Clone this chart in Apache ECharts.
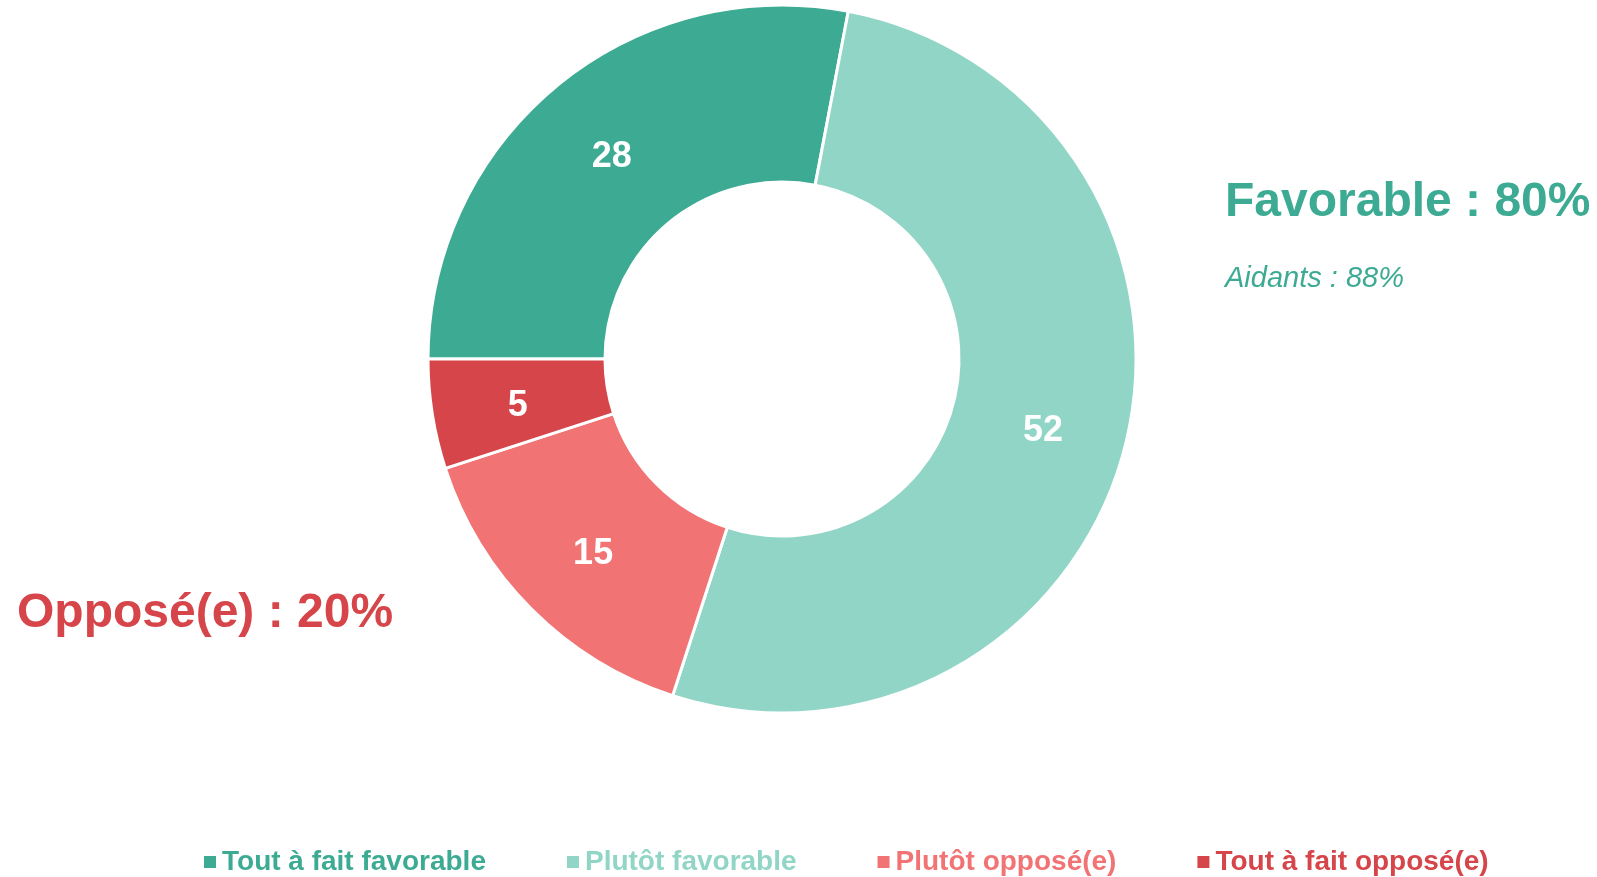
<!DOCTYPE html>
<html>
<head>
<meta charset="utf-8">
<title>Favorable / Opposé</title>
<script src="https://cdn.jsdelivr.net/npm/echarts@6/dist/echarts.min.js"></script>
<style>
  html, body { margin: 0; padding: 0; background: #fff; }
  #chart { width: 1597px; height: 877px; }
</style>
</head>
<body>
<div id="chart"></div>
<script>
// données
const categories = ['Tout à fait favorable', 'Plutôt favorable', 'Plutôt opposé(e)', 'Tout à fait opposé(e)'];
const values = [28, 52, 15, 5];
const colors = ['#3dab93', '#90d5c6', '#f17374', '#d6454a'];
const favorableText = 'Favorable : 80%';
const aidantsText = 'Aidants : 88%';
const opposeText = 'Opposé(e) : 20%';

const FONT = '"Liberation Sans", Arial, Helvetica, sans-serif';

const chart = echarts.init(document.getElementById('chart'));

const option = {
  backgroundColor: '#fff',
  animation: false,
  legend: {
    left: 197,
    top: 843,
    icon: 'rect',
    itemWidth: 14,
    itemHeight: 14,
    itemGap: 79,
    selectedMode: false,
    textStyle: { fontFamily: FONT, fontSize: 28, fontWeight: 'bold' },
    data: categories.map((name, i) => ({
      name,
      itemStyle: { color: colors[i] },
      textStyle: { color: colors[i] }
    }))
  },
  graphic: [
    {
      type: 'text',
      x: 1225,
      y: 203,
      style: {
        text: favorableText,
        font: 'bold 48px ' + FONT,
        fill: colors[0],
        textVerticalAlign: 'middle'
      }
    },
    {
      type: 'text',
      x: 1225,
      y: 279,
      style: {
        text: aidantsText,
        font: 'italic 29px ' + FONT,
        fill: colors[0],
        textVerticalAlign: 'middle'
      }
    },
    {
      type: 'text',
      x: 17,
      y: 614,
      style: {
        text: opposeText,
        font: 'bold 48px ' + FONT,
        fill: colors[3],
        textVerticalAlign: 'middle'
      }
    }
  ],
  series: [
    {
      type: 'pie',
      center: [782, 359],
      radius: [177, 354],
      startAngle: 180,
      clockwise: true,
      avoidLabelOverlap: false,
      label: {
        show: true,
        position: 'inside',
        formatter: '{c}',
        color: '#fff',
        fontFamily: FONT,
        fontSize: 36,
        fontWeight: 'bold',
        offset: [1, 5]
      },
      labelLine: { show: false },
      itemStyle: {
        borderColor: '#fff',
        borderWidth: 3
      },
      emphasis: { disabled: true },
      data: categories.map((name, i) => ({
        name,
        value: values[i],
        itemStyle: { color: colors[i] }
      }))
    }
  ]
};

chart.setOption(option);
</script>
</body>
</html>
